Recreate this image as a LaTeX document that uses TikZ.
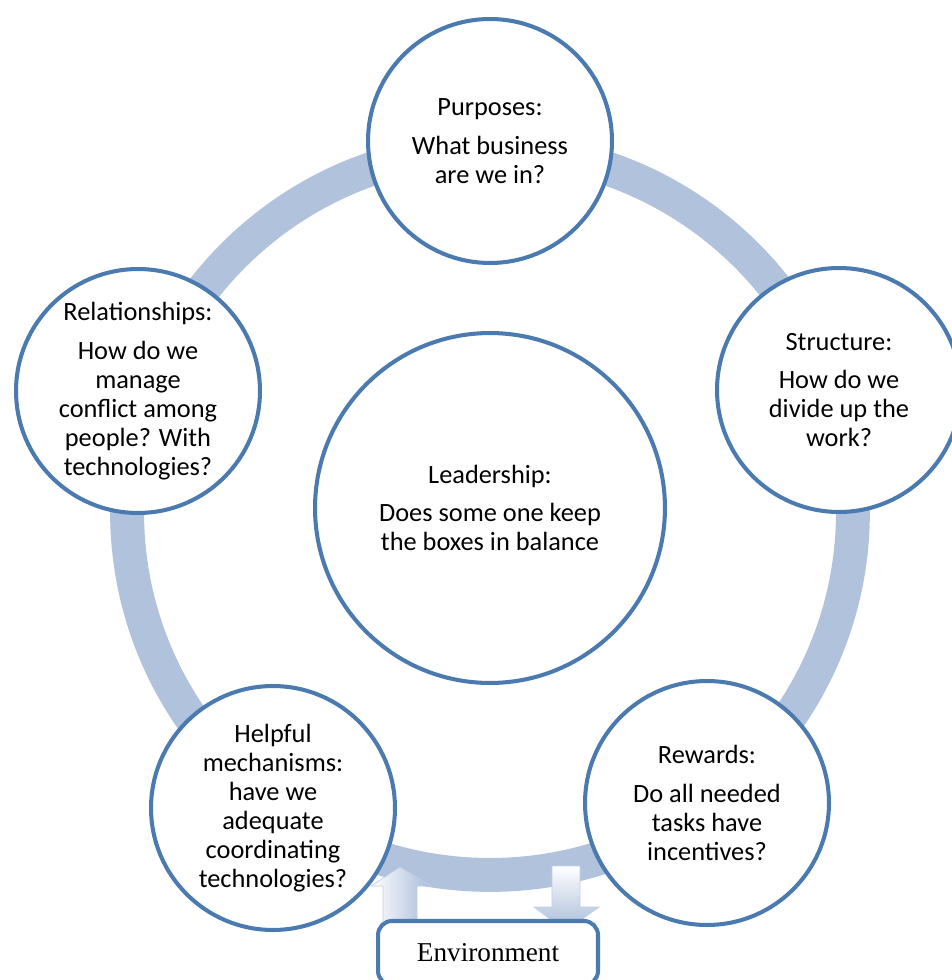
\documentclass[tikz,border=0pt]{standalone}
\usepackage{fontspec}
\setmainfont{Carlito}
\newfontfamily\envfont{Liberation Serif}
\definecolor{ringblue}{HTML}{B1C2DD}
\definecolor{rimblue}{HTML}{4A7AB0}
\tikzset{%
  % Specifications for style of nodes:
        base/.style = {circle, draw=rimblue, line width=2.3pt, fill=white,
                       align=center, inner sep=0pt,
                       font=\fontsize{15}{16.5}\selectfont},
       topic/.style = {base, minimum size=4.88cm},
      centre/.style = {base, minimum size=7cm},
      envbox/.style = {rectangle, rounded corners=8pt, draw=rimblue,
                       line width=2.3pt, fill=white, minimum width=4.4cm,
                       minimum height=1.28cm,
                       font=\envfont\fontsize{15.5}{17}\selectfont},
     blockup/.style = {left color=white, right color=ringblue!90!rimblue,
                       draw=ringblue!80, line width=0.4pt},
   blockdown/.style = {top color=white, bottom color=ringblue!90!rimblue,
                       draw=ringblue!80, line width=0.4pt},
}
\begin{document}
\begin{tikzpicture}[x=0.02cm, y=-0.02cm]
  \useasboundingbox (0,0) rectangle (952,980);
  \clip (0,0) rectangle (952,980);

  % the ring that ties the boxes together
  \coordinate (hub) at (490,512);
  \draw[ringblue, line width=19.3pt] (hub) circle (7.26cm);

  % block arrows to and from the environment
  \path[blockup]   (383,925) -- (383,886) -- (371,886) -- (400,867)
                   -- (431,886) -- (417,886) -- (417,925) -- cycle;
  \path[blockdown] (552,866) -- (552,907) -- (534,907) -- (566,931)
                   -- (599,907) -- (580,907) -- (580,866) -- cycle;

  % Specification of nodes (position, etc.)
  \node (purposes)  [topic]  at (490,141) {Purposes:\\[5.6pt]
                                           What business\\are we in?};
  \node (structure) [topic]  at (839,390) {Structure:\\[5.6pt]
                                           How do we\\divide up the\\work?};
  \node (rewards)   [topic]  at (707,803) {Rewards:\\[5.6pt]
                                           Do all needed\\tasks have\\incentives?};
  \node (helpful)   [topic]  at (273,808) {Helpful\\mechanisms:\\have we\\adequate\\
                                           coordinating\\technologies?};
  \node (relations) [topic]  at (138,391) {Relationships:\\[5.6pt]
                                           How do we\\manage\\conflict among\\
                                           people? With\\technologies?};
  \node (leader)    [centre] at (490,508) {Leadership:\\[5.6pt]
                                           Does some one keep\\the boxes in balance};

  \node (environ)   [envbox] at (488,953) {Environment};
\end{tikzpicture}
\end{document}
